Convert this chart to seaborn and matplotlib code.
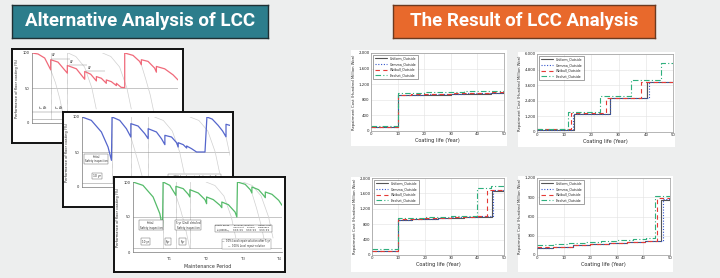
import matplotlib
matplotlib.use("Agg")
import matplotlib.pyplot as plt
import seaborn as sns
from matplotlib.ticker import FuncFormatter

sns.set_style("white")
plt.rcParams['font.family'] = ['DejaVu Sans']

# ---------------- data: left panels (performance of floor coating, %) ----------------
red_x = [0, 4.1, 8.7, 12.8, 12.8, 17.8, 24.2, 24.2, 30.4, 36.1, 36.1, 40.2, 44.1, 44.1, 47.5, 50.9,
         50.9, 54.3, 57.8, 57.8, 61, 63.5, 63.5, 69.2, 73.7, 74.9, 74.9, 79.5, 84, 85.2, 85.2, 90.9, 96.6, 100]
red_y = [100, 98.6, 92.8, 76, 90.4, 87, 71.2, 82.2, 77.4, 62.5, 73.6, 69.7, 60.1, 66.3, 63.9, 56.7,
         61.5, 59.1, 53.4, 56.7, 51, 50.5, 100, 96.6, 88, 83.2, 90.4, 88, 78.4, 72.6, 80.8, 77.4, 68.8, 61.5]

blue_x = [0, 6.3, 13.1, 17.6, 19.9, 20.3, 25.5, 30, 33, 33, 37.9, 42.4, 44.7, 44.7, 50.3, 53.7, 56,
          56, 60.5, 63.9, 65, 65, 68.4, 70.7, 70.7, 74, 77.4, 83.1, 84.4, 88, 92, 95, 97.3, 97.3, 100]
blue_y = [100, 95.2, 78.6, 57.1, 38.1, 100, 95.2, 83.3, 71.4, 90.5, 87.1, 76.2, 69, 83.3, 78.6, 69, 60.5,
          73.8, 71.4, 63.3, 57.1, 63.3, 60.5, 55.7, 58.6, 54.8, 50, 50, 100, 97, 88, 80, 71.7, 89.6, 88]

green_x = [0, 6.7, 13.5, 18, 19.8, 20.2, 24.7, 28.8, 28.8, 33.7, 37.1, 38.2, 38.2, 43.8, 48.3, 49.4,
           49.4, 53.9, 58.4, 59.6, 59.6, 64, 68.5, 69.7, 70.1, 75.3, 78.7, 79.8, 79.8, 84.3, 87.6, 88.8,
           88.8, 93.3, 97.8, 100]
green_y = [100, 95.2, 78.6, 54.8, 35.7, 100, 95.2, 81, 93.8, 90.5, 82.4, 78.6, 89, 84.3, 74.8, 69,
           78.6, 74.8, 66.7, 63.3, 71.4, 67.6, 57.1, 50, 100, 96.7, 89, 84.3, 92.9, 89, 81, 77.6,
           85.7, 82.4, 73.8, 66.7]

# faint reference decay curves (x list, y list)
red_gray = [([12.8, 16, 19, 22], [76, 58, 35, 5]),
            ([24.7, 30, 36, 41, 44], [100, 95, 80, 50, 20]),
            ([48.3, 54, 60, 65, 68], [100, 95, 80, 50, 20]),
            ([74.9, 78, 81, 84], [83.2, 62, 40, 10])]
blue_gray = [([33, 36, 39, 42], [71.4, 50, 28, 5]),
             ([49, 55, 61, 66, 69], [100, 95, 80, 50, 20]),
             ([73, 79, 85, 90, 93], [100, 95, 80, 50, 20]),
             ([97.3, 99, 100], [71.7, 55, 45])]
green_gray = [([28.8, 32, 35, 38], [81, 60, 36, 6]),
              ([49, 55, 61, 66, 69], [100, 95, 80, 50, 20]),
              ([73.7, 80, 86, 91, 94], [100, 95, 80, 50, 20]),
              ([79.8, 83, 86, 89], [84.3, 62, 38, 8])]

red_jumps = [12.8, 24.2]
blue_jumps = [20.3, 33, 44.7]
green_jumps = [20.2, 28.8, 38.2]
period_ticks = [24.3, 49, 73.7, 98.4]
period_labels = ["T$_1$", "T$_2$", "T$_3$", "T$_4$"]

# ---------------- data: right panels (repair cost) ----------------
series_names = ["Uniform_Outside", "Gamma_Outside", "Weibull_Outside", "Frechet_Outside"]

c1_years = [[0, 10, 15, 20, 25, 30, 35, 40, 45, 50]] * 4
c1_cost = [[104, 913, 920, 928, 935, 945, 952, 960, 968, 975],
           [110, 925, 932, 940, 948, 955, 965, 972, 980, 990],
           [115, 930, 938, 945, 955, 962, 970, 980, 990, 1000],
           [130, 975, 982, 990, 1000, 1008, 1015, 1025, 1035, 1045]]

c2_years = [[0, 13.6, 27, 40.5, 50],
            [0, 13.2, 26.7, 41, 50],
            [0, 12.6, 25.5, 38.4, 50],
            [0, 11.5, 23, 34.4, 45.7, 50]]
c2_cost = [[180, 1400, 2600, 3850, 3850],
           [180, 1420, 2620, 3880, 3880],
           [200, 1430, 2650, 3880, 3880],
           [220, 1500, 2740, 3970, 5300, 5300]]

c3_years = [[0, 10, 15, 20, 25, 30, 35, 40, 45.4, 50],
            [0, 10, 15, 20, 25, 30, 35, 40, 45.8, 50],
            [0, 10, 15, 20, 25, 30, 35, 40, 43.7, 50],
            [0, 10, 15, 20, 25, 30, 35, 39.6, 45, 50]]
c3_cost = [[104, 913, 925, 940, 955, 970, 985, 1000, 1670, 1670],
           [110, 920, 930, 945, 960, 975, 990, 1005, 1680, 1680],
           [115, 925, 935, 950, 965, 980, 995, 1010, 1700, 1710],
           [147, 950, 965, 980, 995, 1010, 1025, 1740, 1790, 1790]]

c4_years = [[0, 6, 13.5, 20, 27, 34, 40.5, 46.8, 50],
            [0, 6, 13.5, 20, 27, 34, 40.5, 47.2, 50],
            [0, 6, 13.5, 20, 27, 34, 40.5, 45, 50],
            [0, 6, 12, 18, 24, 30, 36, 41, 44.3, 50]]
c4_cost = [[110, 125, 150, 165, 180, 195, 215, 860, 860],
           [112, 128, 152, 168, 183, 198, 218, 870, 870],
           [118, 132, 158, 172, 188, 203, 222, 890, 890],
           [160, 175, 190, 205, 220, 235, 250, 265, 915, 915]]

# ---------------- figure ----------------
W, H = 720, 278
BG = "#EDEEEE"
fig = plt.figure(figsize=(W / 100, H / 100), dpi=100, facecolor=BG)


def box(x0, y0, x1, y1):
    return [x0 / W, 1 - y1 / H, (x1 - x0) / W, (y1 - y0) / H]


def blank_axes(rect, face, edge=None, lw=0.0):
    a = fig.add_axes(box(*rect))
    a.set_facecolor(face)
    a.set_xticks([])
    a.set_yticks([])
    for s in a.spines.values():
        if edge is None:
            s.set_visible(False)
        else:
            s.set_color(edge)
            s.set_linewidth(lw)
    return a


# title boxes
t1 = blank_axes((12, 5, 268, 38), "#2C7D8C", "#1F2F33", 1.0)
t1.text(0.5, 0.5, "Alternative Analysis of LCC", color="white", fontsize=13.5,
        family=["Roboto", "DejaVu Sans"], fontweight="bold",
        ha="center", va="center", transform=t1.transAxes)
t2 = blank_axes((393, 5, 655, 38), "#E8692C", "#6B3A20", 1.0)
t2.text(0.5, 0.5, "The Result of LCC Analysis", color="white", fontsize=13.5,
        family=["Roboto", "DejaVu Sans"], fontweight="bold",
        ha="center", va="center", transform=t2.transAxes)

TINY = 2.6


def perf_panel(card, axrect, xs, ys, color, grays, jumps, bottom_axis=False):
    blank_axes(card, "white", "#111111", 1.4)
    ax = fig.add_axes(box(*axrect))
    ax.patch.set_alpha(0)
    ax.set_xlim(0, 100)
    ax.set_ylim(0, 100)
    ax.axhline(50, color="#BBBBBB", lw=0.6)
    for gx, gy in grays:
        sns.lineplot(x=gx, y=gy, color="#D0D0D0", lw=0.5, sort=False, estimator=None, ax=ax)
    for jx in jumps:
        ax.vlines(jx, 6, 100, colors="#777777", lw=0.4, linestyles=(0, (1, 1)))
    sns.lineplot(x=xs, y=ys, color=color, lw=0.9, sort=False, estimator=None, ax=ax)
    ax.axhline(6, color="#999999", lw=0.4)
    ax.set_yticks([0, 50, 100])
    ax.set_yticklabels(["0", "50", "100"], fontsize=TINY)
    ax.tick_params(axis="y", length=1, pad=1, width=0.3)
    ax.set_ylabel("Performance of floor coating (%)", fontsize=TINY, labelpad=2)
    ax.set_xlabel("")
    for s in ["top", "right"]:
        ax.spines[s].set_visible(False)
    for s in ["left", "bottom"]:
        ax.spines[s].set_color("#777777")
        ax.spines[s].set_linewidth(0.5)
    if bottom_axis:
        ax.set_xticks(period_ticks)
        ax.set_xticklabels(period_labels, fontsize=TINY + 0.4)
        ax.tick_params(axis="x", length=1.5, pad=1, width=0.3)
        ax.set_xlabel("Maintenance Period", fontsize=TINY + 0.8, labelpad=1, color="#333333")
    else:
        ax.set_xticks([])
    return ax


# red panel
ax_r = perf_panel((12, 49, 183, 143), (32, 53, 178, 123), red_x, red_y, "#F06A7A", red_gray, red_jumps)
for xx, yy in [(14, 95), (26, 86), (38, 77)]:
    ax_r.hlines(yy - 3, xx - 1, xx + 12, colors="#888888", lw=0.3)
    ax_r.text(xx, yy, "ΔP", fontsize=2.2, color="#444444")
ax_r.text(4, 20, "t$_1$,Δt", fontsize=2.4, color="#333333")
ax_r.text(15, 20, "t$_2$,Δt", fontsize=2.4, color="#333333")
ax_r.hlines(16, 0, 24.2, colors="#777777", lw=0.3)

# blue panel
ax_b = perf_panel((63, 112, 233, 207), (82, 117, 230, 187), blue_x, blue_y, "#5566CC", blue_gray, blue_jumps)
ax_b.text(9.5, 40, "Initial\nSafety inspection", fontsize=1.9, ha="center", va="center",
          bbox=dict(boxstyle="square,pad=0.3", fc="white", ec="#555555", lw=0.3))
ax_b.text(10, 16, "10 yr", fontsize=2.2, ha="center", va="center",
          bbox=dict(boxstyle="square,pad=0.4", fc="white", ec="#555555", lw=0.3))
ax_b.text(76, 14, "—  10% Local repair solution after 5 yr", fontsize=1.9, ha="center", va="center",
          bbox=dict(boxstyle="square,pad=0.3", fc="white", ec="#777777", lw=0.3))

# green panel
ax_g = perf_panel((114, 177, 285, 272), (133, 182, 282, 252), green_x, green_y, "#55BB6A", green_gray,
                  green_jumps, bottom_axis=True)
ax_g.text(12, 38, "Initial\nSafety inspection", fontsize=1.9, ha="center", va="center",
          bbox=dict(boxstyle="square,pad=0.3", fc="white", ec="#555555", lw=0.3))
ax_g.text(37, 38, "5 yr (2nd) detailed\nSafety inspection", fontsize=1.9, ha="center", va="center",
          bbox=dict(boxstyle="square,pad=0.3", fc="white", ec="#555555", lw=0.3))
for xx, lab in [(8.5, "10 yr"), (23.6, "5yr"), (33.4, "5yr")]:
    ax_g.text(xx, 15, lab, fontsize=2.0, ha="center", va="center",
              bbox=dict(boxstyle="square,pad=0.4", fc="white", ec="#555555", lw=0.3))
ax_g.text(74, 34, "Safety grade      Physical condition      Repair cost\n"
                  "                      Excellent    Normal    Degraded\n"
                  "A (Good)        ###.##    ###.##    ###.##\n"
                  "B (Normal)     ###.##    ###.##    ###.##",
          fontsize=1.6, ha="center", va="center", family="DejaVu Sans",
          bbox=dict(boxstyle="square,pad=0.3", fc="white", ec="#555555", lw=0.3))
ax_g.text(76, 12, "—  10% Local repair solution after 5 yr\n—  100% Local repair solution", fontsize=1.8,
          ha="center", va="center",
          bbox=dict(boxstyle="square,pad=0.3", fc="white", ec="#777777", lw=0.3))

# ---------------- right cost charts ----------------
styles = [dict(color="#555555", ls="-"),
          dict(color="#3355CC", ls=(0, (1, 1.5))),
          dict(color="#E53935", ls=(0, (4, 3))),
          dict(color="#2EAF7D", ls=(0, (5, 2, 1, 2)))]


def cost_chart(card, axrect, years, costs, ymax, ystep):
    blank_axes(card, "white")
    ax = fig.add_axes(box(*axrect))
    ax.set_facecolor("white")
    for name, xs, ys, st in zip(series_names, years, costs, styles):
        sns.lineplot(x=xs, y=ys, color=st["color"], linestyle=st["ls"], lw=0.8,
                     drawstyle="steps-post", sort=False, estimator=None, label=name, ax=ax)
    ax.set_xlim(0, 50)
    ax.set_ylim(0, ymax)
    ax.set_xticks(range(0, 51, 10))
    ax.set_yticks(range(0, ymax + 1, ystep))
    ax.yaxis.set_major_formatter(FuncFormatter(lambda v, p: f"{int(v):,}"))
    ax.tick_params(labelsize=2.8, length=1.2, pad=1, width=0.3, direction="in")
    ax.grid(True, color="#E2E2E2", lw=0.4)
    for s in ax.spines.values():
        s.set_color("#999999")
        s.set_linewidth(0.5)
    ax.set_xlabel("Coating life (Year)", fontsize=3.6, labelpad=1)
    ax.set_ylabel("Repairment Cost (Hundred Million Won)", fontsize=2.7, labelpad=2)
    leg = ax.legend(loc="upper left", fontsize=2.3, frameon=True, fancybox=False,
                    handlelength=4, borderpad=0.5, labelspacing=0.5, borderaxespad=0.6)
    leg.get_frame().set_edgecolor("#333333")
    leg.get_frame().set_linewidth(0.4)
    return ax


cost_chart((351, 50, 507, 146), (371, 53, 504, 131), c1_years, c1_cost, 2000, 400)
cost_chart((518, 52, 675, 147), (537, 54, 673, 132), c2_years, c2_cost, 6000, 1200)
cost_chart((351, 177, 507, 272), (372, 178, 504, 255), c3_years, c3_cost, 2000, 400)
cost_chart((518, 176, 673, 272), (537, 178, 670, 255), c4_years, c4_cost, 1200, 300)

fig.savefig("out.png", dpi=100, facecolor=BG)
